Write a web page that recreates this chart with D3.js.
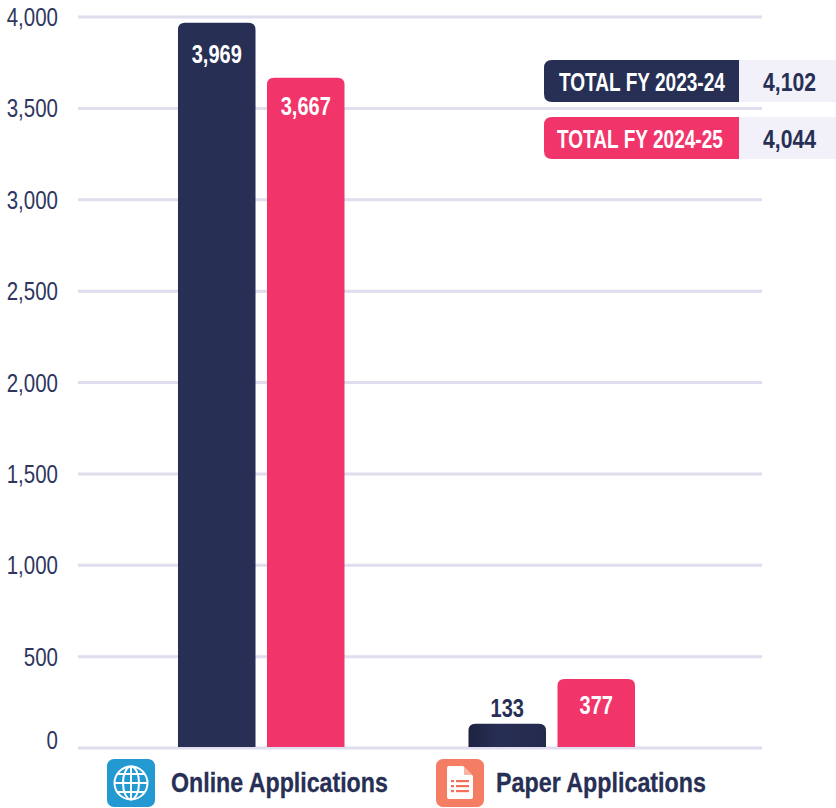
<!DOCTYPE html>
<html><head><meta charset="utf-8">
<script src="https://cdnjs.cloudflare.com/ajax/libs/d3/7.8.5/d3.min.js"></script>
<style>html,body{margin:0;padding:0;background:#fff}svg{display:block}
text{font-family:"Liberation Sans",sans-serif}</style></head>
<body><svg id="c" width="836" height="808"></svg>
<script>
const categories=["Online Applications","Paper Applications"];
const periods=["FY 2023-24","FY 2024-25"];
const fy2324=[3969,133];
const fy2425=[3667,377];
const totals=[4102,4044];
const totalLabels=["TOTAL FY 2023-24","TOTAL FY 2024-25"];
const yTicks=[0,500,1000,1500,2000,2500,3000,3500,4000];
const navy="#272F55",pink="#F1356B",grid="#E0DDEE",fmt=d3.format(",");

const svg=d3.select("#c");
const defs=svg.append("defs");
const lg=defs.append("linearGradient").attr("id","navyFade");
lg.append("stop").attr("offset","0").attr("stop-color","#1D2340");
lg.append("stop").attr("offset","0.4").attr("stop-color",navy);
lg.append("stop").attr("offset","1").attr("stop-color","#232A4C");

const y=d3.scaleLinear().domain([0,4000]).range([748,17]);
const x0=d3.scaleBand().domain(categories).range([116,697]);
const x1=d3.scaleBand().domain(periods).range([0,x0.bandwidth()]).paddingInner(0.129).paddingOuter(0.6965);

// condense a text to a target width by horizontal scaling
function fit(sel,px,py,w){
 sel.attr("transform",function(d,i){
   const len=this.getComputedTextLength();
   return `translate(${px(d,i)},${py}) scale(${w(d,i)/len},1)`;});
}

// grid
svg.append("g").selectAll("line").data(yTicks).join("line")
 .attr("x1",78).attr("x2",762).attr("y1",d=>y(d)).attr("y2",d=>y(d))
 .attr("stroke",grid).attr("stroke-width",3);
// y tick labels
svg.append("g").selectAll("text").data(yTicks).join("text")
 .attr("text-anchor","end").attr("fill","#2E3660").attr("font-size",25)
 .attr("transform",d=>`translate(58,${d===0?749:y(d)+9}) scale(0.82,1)`).text(fmt);

function barPath(xp,w,top,base,r){
 const p=d3.path();p.moveTo(xp,base);p.lineTo(xp,top+r);p.quadraticCurveTo(xp,top,xp+r,top);
 p.lineTo(xp+w-r,top);p.quadraticCurveTo(xp+w,top,xp+w,top+r);p.lineTo(xp+w,base);p.closePath();return p.toString();
}
const rows=[];
categories.forEach((c,i)=>{rows.push({c,p:periods[0],v:fy2324[i]});rows.push({c,p:periods[1],v:fy2425[i]});});
svg.append("g").selectAll("path").data(rows).join("path")
 .attr("d",d=>barPath(x0(d.c)+x1(d.p),x1.bandwidth(),y(d.v),747,7))
 .attr("fill",d=>d.p===periods[1]?pink:(d.v<500?"url(#navyFade)":navy));
const outside=d=>d.v<200;
svg.append("g").selectAll("text").data(rows).join("text")
 .attr("text-anchor","middle").attr("font-size",25).attr("font-weight",700)
 .attr("fill",d=>outside(d)?navy:"#fff")
 .attr("transform",d=>{
   const cx=x0(d.c)+x1(d.p)+x1.bandwidth()/2;
   const ty=outside(d)?y(d.v)-7:y(d.v)+(d.v>3800?40:d.v>3000?37:35);
   return `translate(${cx},${ty}) scale(0.8,1)`;})
 .text(d=>fmt(d.v));

// totals
const tY=d3.scalePoint().domain(totalLabels).range([60,117]);
const tg=svg.append("g").selectAll("g").data(totalLabels).join("g").attr("transform",d=>`translate(0,${tY(d)})`);
tg.append("rect").attr("x",738).attr("width",98).attr("height",42).attr("fill","#F2F1F9");
tg.append("path").attr("d",()=>{const p=d3.path(),x=544,w=195,h=42,r=8;
 p.moveTo(x+w,0);p.lineTo(x+r,0);p.quadraticCurveTo(x,0,x,r);p.lineTo(x,h-r);p.quadraticCurveTo(x,h,x+r,h);p.lineTo(x+w,h);p.closePath();return p.toString();})
 .attr("fill",(d,i)=>i?pink:navy);
tg.append("text").attr("fill","#fff").attr("font-size",26).attr("font-weight",700)
 .text(d=>d).call(fit,(d,i)=>i?557:559,31,()=>166);
tg.append("text").attr("fill",navy).attr("font-size",26).attr("font-weight",700)
 .text((d,i)=>fmt(totals[i])).call(fit,()=>763,31,()=>53);

// category labels & icons
const labelX=[171,496],labelW=[217,210];
const iconX=[107,436];
const iconFill=["#2399D1","#F57D63"];
const lab=svg.append("g").selectAll("g").data(categories).join("g");
lab.append("rect").attr("x",(d,i)=>iconX[i]).attr("y",759).attr("width",48).attr("height",48).attr("rx",7).attr("fill",(d,i)=>iconFill[i]);
lab.append("text").attr("fill",navy).attr("stroke",navy).attr("stroke-width",0.3)
 .attr("font-size",28.5).attr("font-weight",700).text(d=>d)
 .call(fit,(d,i)=>labelX[i],792,(d,i)=>labelW[i]);

// globe icon
const gl=svg.append("g").attr("transform","translate(131,783)").attr("fill","none").attr("stroke","#fff").attr("stroke-width",2);
gl.append("circle").attr("r",16.5);
gl.append("ellipse").attr("rx",8).attr("ry",16.5);
gl.append("line").attr("y1",-16.5).attr("y2",16.5);
[-9,0,9].forEach(v=>gl.append("line").attr("x1",-Math.sqrt(272-v*v)).attr("x2",Math.sqrt(272-v*v)).attr("y1",v).attr("y2",v));
// document icon
const dc=svg.append("g").attr("transform","translate(447,766)");
dc.append("path").attr("fill","#fff").attr("d","M2,0H16L26,10V31Q26,33 24,33H2Q0,33 0,31V2Q0,0 2,0Z");
dc.append("path").attr("fill","#F9B5A3").attr("d","M17,1L25,9H17Z");
[15,20,25].forEach(v=>{
 dc.append("rect").attr("x",4).attr("y",v-1).attr("width",3).attr("height",2.2).attr("fill","#F26F58");
 dc.append("rect").attr("x",9).attr("y",v-1).attr("width",13).attr("height",2.2).attr("fill","#F26F58");
});
</script></body></html>
